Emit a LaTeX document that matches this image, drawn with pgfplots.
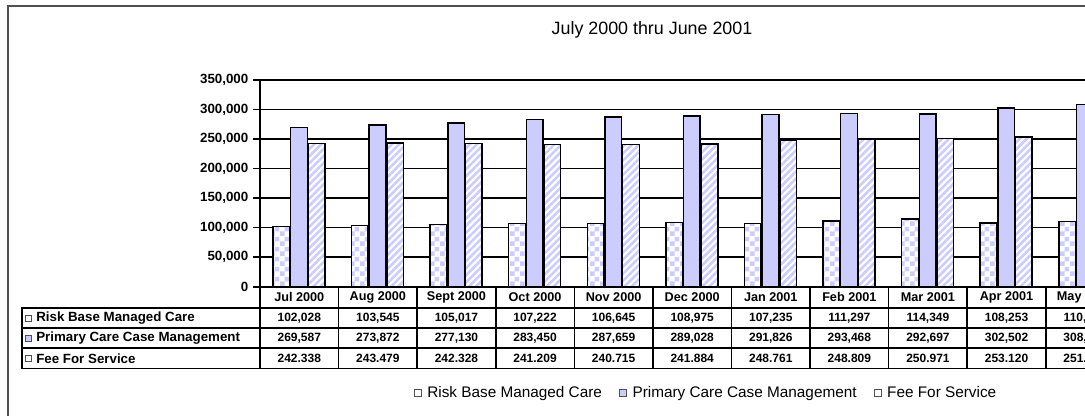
\documentclass[border=0pt]{standalone}
\usepackage{fontspec}
\setmainfont{Liberation Sans}
\usepackage{pgfplots}
\pgfplotsset{compat=1.18}
\usetikzlibrary{patterns,patterns.meta}
\definecolor{lav}{RGB}{204,204,255}
\definecolor{framegray}{RGB}{80,80,80}
\pgfdeclarepatternformonly{mychecker}{\pgfpointorigin}{\pgfpoint{7.5pt}{7.5pt}}{\pgfpoint{7.5pt}{7.5pt}}{%
  \pgfpathrectangle{\pgfpointorigin}{\pgfpoint{3.75pt}{3.75pt}}%
  \pgfpathrectangle{\pgfpoint{3.75pt}{3.75pt}}{\pgfpoint{3.75pt}{3.75pt}}%
  \pgfusepath{fill}}

\pgfplotstableread{
idx risk primary fee
0 102028 269587 242338
1 103545 273872 243479
2 105017 277130 242328
3 107222 283450 241209
4 106645 287659 240715
5 108975 289028 241884
6 107235 291826 248761
7 111297 293468 248809
8 114349 292697 250971
9 108253 302502 253120
10 110125 308510 251648
}\datatable

\begin{document}
\begin{tikzpicture}
\begin{scope}
\clip (0pt,0pt) rectangle (813.75pt,-312pt);
\draw[framegray, line width=1.5pt] (6pt,-4.5pt) rectangle (1000pt,-340pt);
\begin{axis}[
  at={(195pt,-215.025pt)}, anchor=south west,
  scale only axis, width=707.25pt, height=155.025pt,
  xmin=-0.5, xmax=11.5, ymin=0, ymax=350000,
  ytick={0,50000,100000,150000,200000,250000,300000,350000},
  yticklabels={0,{50,000},{100,000},{150,000},{200,000},{250,000},{300,000},{350,000}},
  xtick=\empty,
  ytick pos=left,
  tick align=outside,
  major tick length=5.25pt,
  ymajorgrids,
  grid style={black, line width=1.2pt},
  axis line style={black, line width=1.2pt},
  every tick/.style={black, line width=1.2pt},
  scaled y ticks=false,
  yticklabel style={font=\bfseries\fontsize{10}{12}\selectfont},
  clip=true,
  legend style={at={(0.4735,-0.5142)}, anchor=center, draw=none, fill=none,
    legend columns=3, font=\fontsize{11.5}{13}\selectfont,
    /tikz/every odd column/.append style={column sep=2pt},
    /tikz/every even column/.append style={column sep=11pt}},
]
\addplot[ybar, bar width=12.5pt, bar shift=-13.5pt, draw=black, line width=1.1pt,
  preaction={fill=white}, pattern=mychecker, pattern color=lav,
  legend image code/.code={\draw[line width=0.7pt, draw=framegray, fill=white] (0pt,-2.6pt) rectangle (5.2pt,2.6pt);}]
  table[x=idx, y=risk] {\datatable};
\addlegendentry{Risk Base Managed Care}
\addplot[ybar, bar width=12.5pt, bar shift=-0.25pt, draw=black, line width=1.1pt, fill=lav,
  legend image code/.code={\draw[line width=0.7pt, draw=framegray, fill=lav] (0pt,-2.6pt) rectangle (5.2pt,2.6pt);}]
  table[x=idx, y=primary] {\datatable};
\addlegendentry{Primary Care Case Management}
\addplot[ybar, bar width=12.5pt, bar shift=13pt, draw=black, line width=1.1pt,
  preaction={fill=white}, pattern={Lines[angle=45,distance=3.75pt,line width=1.9pt]}, pattern color=lav,
  legend image code/.code={\draw[line width=0.7pt, draw=framegray, fill=white] (0pt,-2.6pt) rectangle (5.2pt,2.6pt);}]
  table[x=idx, y=fee] {\datatable};
\addlegendentry{Fee For Service}
\end{axis}

\begin{scope}[x=0.75pt, y=-0.75pt]
\node[anchor=base, font=\fontsize{13.4}{16}\selectfont] at (652,35) {July 2000 thru June 2001};
\begin{scope}[line width=1.2pt, line cap=rect]
\foreach \yy in {308,328.3,348.3,368.5} \draw (22,\yy) -- (1220,\yy);
\draw (22,308) -- (22,368.5);
\foreach \k in {0,...,12} \draw (260+78.58*\k,286.7) -- (260+78.58*\k,368.5);
\end{scope}
\foreach \m [count=\i from 0] in {Jul 2000,Aug 2000,Sept 2000,Oct 2000,Nov 2000,Dec 2000,Jan 2001,Feb 2001,Mar 2001,Apr 2001,May 2001,Jun 2001}
  \node[font=\bfseries\fontsize{9.5}{10}\selectfont] at (299.29+78.58*\i,297.4) {\m};
\foreach \m [count=\i from 0] in {{102,028},{103,545},{105,017},{107,222},{106,645},{108,975},{107,235},{111,297},{114,349},{108,253},{110,125}}
  \node[font=\bfseries\fontsize{9}{10}\selectfont] at (299.29+78.58*\i,318.2) {\m};
\foreach \m [count=\i from 0] in {{269,587},{273,872},{277,130},{283,450},{287,659},{289,028},{291,826},{293,468},{292,697},{302,502},{308,510}}
  \node[font=\bfseries\fontsize{9}{10}\selectfont] at (299.29+78.58*\i,338.3) {\m};
\foreach \m [count=\i from 0] in {242.338,243.479,242.328,241.209,240.715,241.884,248.761,248.809,250.971,253.120,251.648}
  \node[font=\bfseries\fontsize{9}{10}\selectfont] at (299.29+78.58*\i,358.4) {\m};
\draw[line width=0.7pt, draw=framegray, fill=white] (25,315) rectangle (31,321);
\draw[line width=0.7pt, draw=framegray, fill=lav] (25,335.3) rectangle (31,341.3);
\draw[line width=0.7pt, draw=framegray, fill=white] (25,355.4) rectangle (31,361.4);
\node[anchor=west, inner sep=0pt, font=\bfseries\fontsize{10}{11}\selectfont] at (36,318.2) {Risk Base Managed Care};
\node[anchor=west, inner sep=0pt, font=\bfseries\fontsize{10}{11}\selectfont] at (36,338.3) {Primary Care Case Management};
\node[anchor=west, inner sep=0pt, font=\bfseries\fontsize{10}{11}\selectfont] at (36,358.4) {Fee For Service};
\end{scope}
\end{scope}
\pgfresetboundingbox
\path[use as bounding box] (0pt,0pt) rectangle (813.75pt,-312pt);
\end{tikzpicture}
\end{document}
